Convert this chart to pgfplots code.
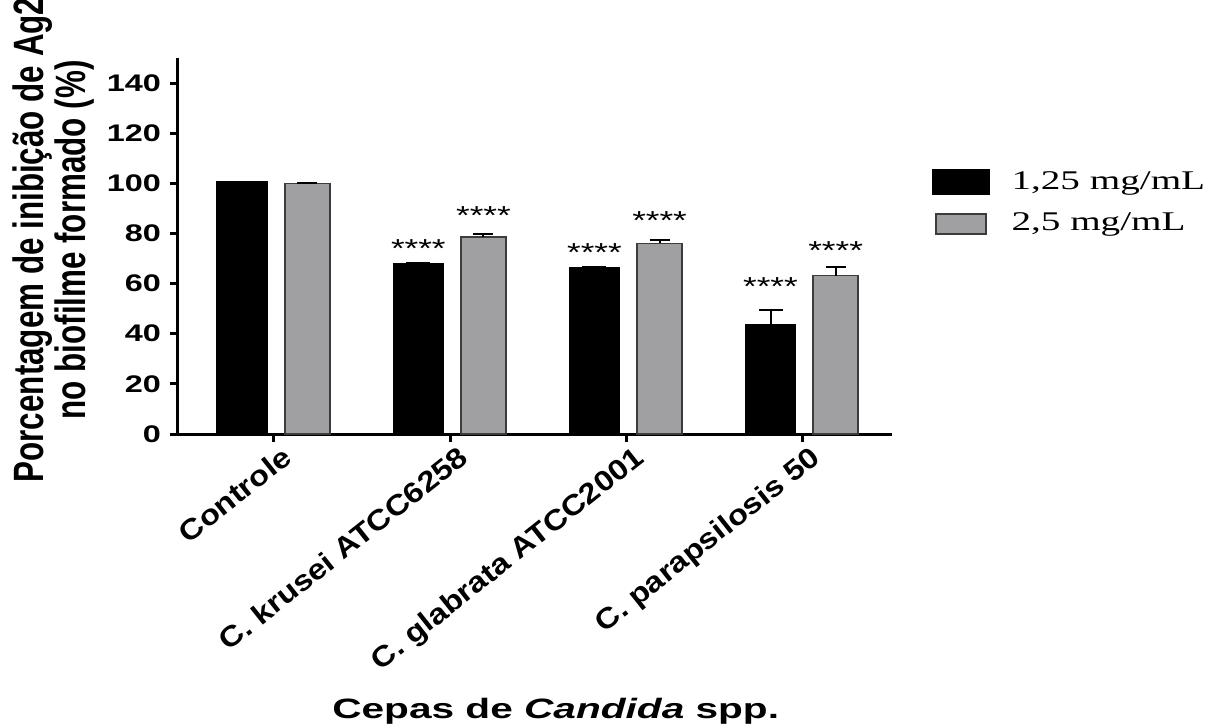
\documentclass[border=0pt]{standalone}
\usepackage{fontspec}
\setmainfont{Liberation Sans}[FakeStretch=1.35]
\newfontfamily\tlabfont{Liberation Sans}[FakeStretch=1.14]
\newfontfamily\xlabfont{Liberation Sans}[FakeStretch=1.45]
\newfontfamily\ylabfont{Liberation Sans}[FakeStretch=0.74]
\newfontfamily\legfont{Liberation Serif}[FakeStretch=1.45]
\usepackage{pgfplots}
\pgfplotsset{compat=1.18}
\definecolor{bargray}{RGB}{160,160,162}
\definecolor{bordergray}{RGB}{60,60,60}
\begin{document}
\begin{tikzpicture}
\begin{axis}[
  name=main,
  at={(0,0)}, anchor=south west,
  scale only axis,
  width=357pt, height=188pt,
  xmin=-0.545, xmax=3.51, ymin=0, ymax=150,
  axis lines=left,
  axis line style={line width=1.5pt, -},
  ytick={0,20,...,140},
  xtick={0,1,2,3},
  xticklabels={Controle, C. krusei ATCC6258, C. glabrata ATCC2001, C. parapsilosis 50},
  tick style={line width=1.5pt, black},
  major tick length=4pt,
  tick align=outside,
  /pgf/number format/assume math mode=true,
  yticklabel style={font=\bfseries\fontsize{12}{14}\selectfont, xshift=-1pt},
  xticklabel style={font=\tlabfont\bfseries\fontsize{14.3}{16}\selectfont, rotate=38.4, anchor=north east, inner sep=1pt, xshift=3pt, yshift=-2pt},
  xlabel={Cepas de \textit{Candida} spp.},
  xlabel style={at={(rel axis cs:0.529,-0.737)}, anchor=center, font=\xlabfont\bfseries\fontsize{14}{16}\selectfont},
  ylabel={Porcentagem de inibição de Ag2\\no biofilme formado (\%)},
  ylabel style={at={(rel axis cs:-0.175,0.516)}, anchor=center, align=center, font=\ylabfont\bfseries\fontsize{21.2}{21}\selectfont},
  legend style={at={(1.047,0.72)}, anchor=north west, draw=none, fill=none,
    font=\legfont\fontsize{13.5}{15}\selectfont, row sep=6pt,
    /tikz/every odd column/.append style={column sep=9pt}},
  legend cell align=left,
]
\addplot[ybar, bar width=0.284, bar shift=0pt, fill=black, draw=black, line width=0.8pt,
  legend image code/.code={\draw[fill=black, draw=black] (0pt,-6pt) rectangle (28pt,6pt);},
  error bars/.cd, y dir=plus, y explicit,
  error bar style={line width=1pt, black},
  error mark options={rotate=90, mark size=6pt, line width=1pt, black}]
coordinates {
  (-0.18,100.5) +- (0,0)
  (0.82,68.0) +- (0,0.4)
  (1.82,66.3) +- (0,0.4)
  (2.82,43.6) +- (0,6.0)
};
\addlegendentry{1,25 mg/mL}
\addplot[ybar, bar width=0.256, bar shift=0pt, fill=bargray, draw=bordergray, line width=0.8pt,
  legend image code/.code={\draw[fill=bargray, draw=bordergray, line width=0.8pt] (1.5pt,-5.5pt) rectangle (26.5pt,4.5pt);},
  error bars/.cd, y dir=plus, y explicit,
  error bar style={line width=1pt, black},
  error mark options={rotate=90, mark size=5pt, line width=1pt, black}]
coordinates {
  (0.19,100.0) +- (0,0)
  (1.19,78.7) +- (0,1.0)
  (2.19,76.0) +- (0,1.5)
  (3.19,63.2) +- (0,3.3)
};
\addlegendentry{2,5 mg/mL}
\addplot[forget plot, draw=none, mark=none, nodes near coords, point meta=explicit symbolic,
  nodes near coords style={anchor=center, font=\fontsize{13}{12}\selectfont, inner sep=0pt}]
coordinates {
  (0.82,74)[****]
  (1.19,87)[****]
  (1.82,72.4)[****]
  (2.19,85)[****]
  (2.82,58.8)[****]
  (3.19,73)[****]
};
\end{axis}
\pgfresetboundingbox
\path[use as bounding box] ([xshift=-89pt,yshift=-147pt]main.south west) rectangle ([xshift=522pt,yshift=217pt]main.south west);
\end{tikzpicture}
\end{document}
